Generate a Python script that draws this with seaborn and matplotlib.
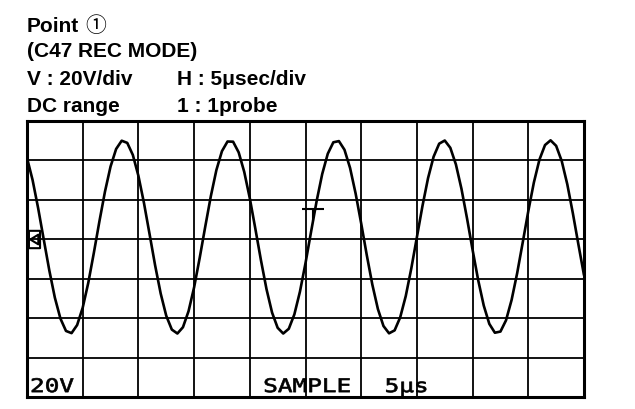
import numpy as np
import pandas as pd
import matplotlib
matplotlib.use("Agg")
import matplotlib.pyplot as plt
import seaborn as sns
from matplotlib.path import Path
from matplotlib.transforms import Affine2D
from matplotlib.patheffects import AbstractPathEffect

# --- trace: C47 REC MODE, sampled every 0.5 us over 10 divisions ---
time_us = np.arange(0, 50.01, 0.5)
volts = [
    41.3, 30.1, 15.8, 0.0, -15.7, -29.6, -40.2, -46.5, -47.6, -43.5,
    -34.7, -22.1, -6.9, 9.1, 24.2, 36.9, 45.8, 50.0, 48.9, 42.8,
    32.2, 18.4, 2.7, -13.2, -27.5, -38.8, -45.8, -47.8, -44.6, -36.5,
    -24.4, -9.5, 6.4, 21.8, 35.1, 44.7, 49.6, 49.5, 44.1, 34.2,
    20.8, 5.3, -10.6, -25.3, -37.2, -44.9, -47.8, -45.4, -38.1, -26.6,
    -12.1, 3.8, 19.4, 33.1, 43.4, 49.2, 49.8, 45.4, 36.2, 23.2,
    8.0, -8.0, -23.0, -35.4, -44.0, -47.7, -46.2, -39.6, -28.8, -14.7,
    1.1, 16.9, 31.0, 41.9, 48.5, 50.1, 46.4, 38.0, 25.6, 10.6,
    -5.4, -20.7, -33.6, -42.9, -47.4, -46.8, -41.1, -30.8, -17.2, -1.6,
    14.3, 28.8, 40.4, 47.8, 50.2, 47.4, 39.7, 27.9, 13.2, -2.7,
    -18.2,
]

# --- scope settings ---
us_per_div = 5
v_per_div = 20
n_hdiv = 10
v_top, v_bottom = 60, -80          # 3 div above ground, 4 below (incl. status row)
ground_v = 0.0
ground_mark_t = 0.63
trig_t, trig_v = 25.67, 15.4

header_left = ["Point", "(C47 REC MODE)", "V : 20V/div", "DC range"]
header_right = ["H : 5\u03bcsec/div", "1 : 1probe"]
point_mark = "\u2460"
status_labels = ["20V", "SAMPLE", "5\u03bcs"]
status_t = [0.27, 21.2, 32.1]
status_v = -77.5


class StretchStroke(AbstractPathEffect):
    """Widen glyphs horizontally about the text origin and thicken their outline."""

    def __init__(self, sx, lw=0.0):
        super().__init__()
        self.sx = sx
        self.lw = lw

    def draw_path(self, renderer, gc, tpath, affine, rgbFace=None):
        trans = Affine2D().scale(self.sx, 1.0) + affine
        gc0 = renderer.new_gc()
        gc0.copy_properties(gc)
        gc0.set_linewidth(self.lw)
        gc0.set_foreground(rgbFace if rgbFace is not None else "black")
        renderer.draw_path(gc0, tpath, trans, rgbFace)
        gc0.restore()


sns.set_style("white")
plt.rcParams["font.family"] = ["Liberation Sans", "DejaVu Sans"]

W, H = 635, 410
fig = plt.figure(figsize=(W / 100, H / 100), dpi=100)
fig.patch.set_facecolor("white")
ax = fig.add_axes([27 / W, 12 / H, 557 / W, 276 / H])

df = pd.DataFrame({"t": time_us, "v": volts})
sns.lineplot(data=df, x="t", y="v", ax=ax, color="black", linewidth=1.9,
             estimator=None, sort=False, zorder=3)

ax.set_xlim(0, us_per_div * n_hdiv)
ax.set_ylim(v_bottom, v_top)
ax.set_xticks(np.arange(0, us_per_div * n_hdiv + 1, us_per_div))
ax.set_yticks(np.arange(v_bottom, v_top + 1, v_per_div))
ax.tick_params(length=0, labelbottom=False, labelleft=False)
ax.grid(True, color="black", linewidth=1.3)
ax.set_axisbelow(True)
ax.set_xlabel("")
ax.set_ylabel("")
for sp in ax.spines.values():
    sp.set_visible(True)
    sp.set_color("black")
    sp.set_linewidth(2.2)

# ground reference marker: box with left-pointing arrow
gm_verts = [(-0.32, -0.5), (0.32, -0.5), (0.32, 0.5), (-0.32, 0.5), (-0.32, -0.5),
            (0.22, 0.28), (-0.24, 0.0), (0.22, -0.28), (0.22, 0.28)]
gm_codes = [Path.MOVETO, Path.LINETO, Path.LINETO, Path.LINETO, Path.CLOSEPOLY,
            Path.MOVETO, Path.LINETO, Path.LINETO, Path.CLOSEPOLY]
ax.plot([ground_mark_t], [ground_v], marker=Path(gm_verts, gm_codes), ms=12.5,
        mfc="none", mec="black", mew=1.5, ls="none", zorder=4)

# trigger level marker
trig_path = Path([(-1, 0), (1, 0), (0, 0), (0, -1.1)],
                 [Path.MOVETO, Path.LINETO, Path.MOVETO, Path.LINETO])
ax.plot([trig_t], [trig_v], marker=trig_path, ms=17.4, mfc="none", mec="black",
        mew=1.5, ls="none", zorder=4)

# on-screen readouts in the bottom row
for s, t in zip(status_labels, status_t):
    ax.text(t, status_v, s, ha="left", va="baseline", fontsize=13.5,
            family=["DejaVu Sans Mono"], color="black",
            path_effects=[StretchStroke(1.3, 0.5)], zorder=5)

# header block above the graticule
baselines = [32.3, 57.3, 85.0, 111.7]
for s, yb in zip(header_left, baselines):
    fig.text(27 / W, 1 - yb / H, s, ha="left", va="baseline",
             fontsize=15, fontweight="bold", color="black")
for s, yb in zip(header_right, baselines[2:]):
    fig.text(177 / W, 1 - yb / H, s, ha="left", va="baseline",
             fontsize=15, fontweight="bold", color="black")
fig.text(85 / W, 1 - baselines[0] / H, point_mark, ha="left", va="baseline",
         fontsize=15, family=["Noto Sans CJK JP", "DejaVu Sans"], color="black")

fig.savefig("out.png", dpi=100, facecolor="white")
